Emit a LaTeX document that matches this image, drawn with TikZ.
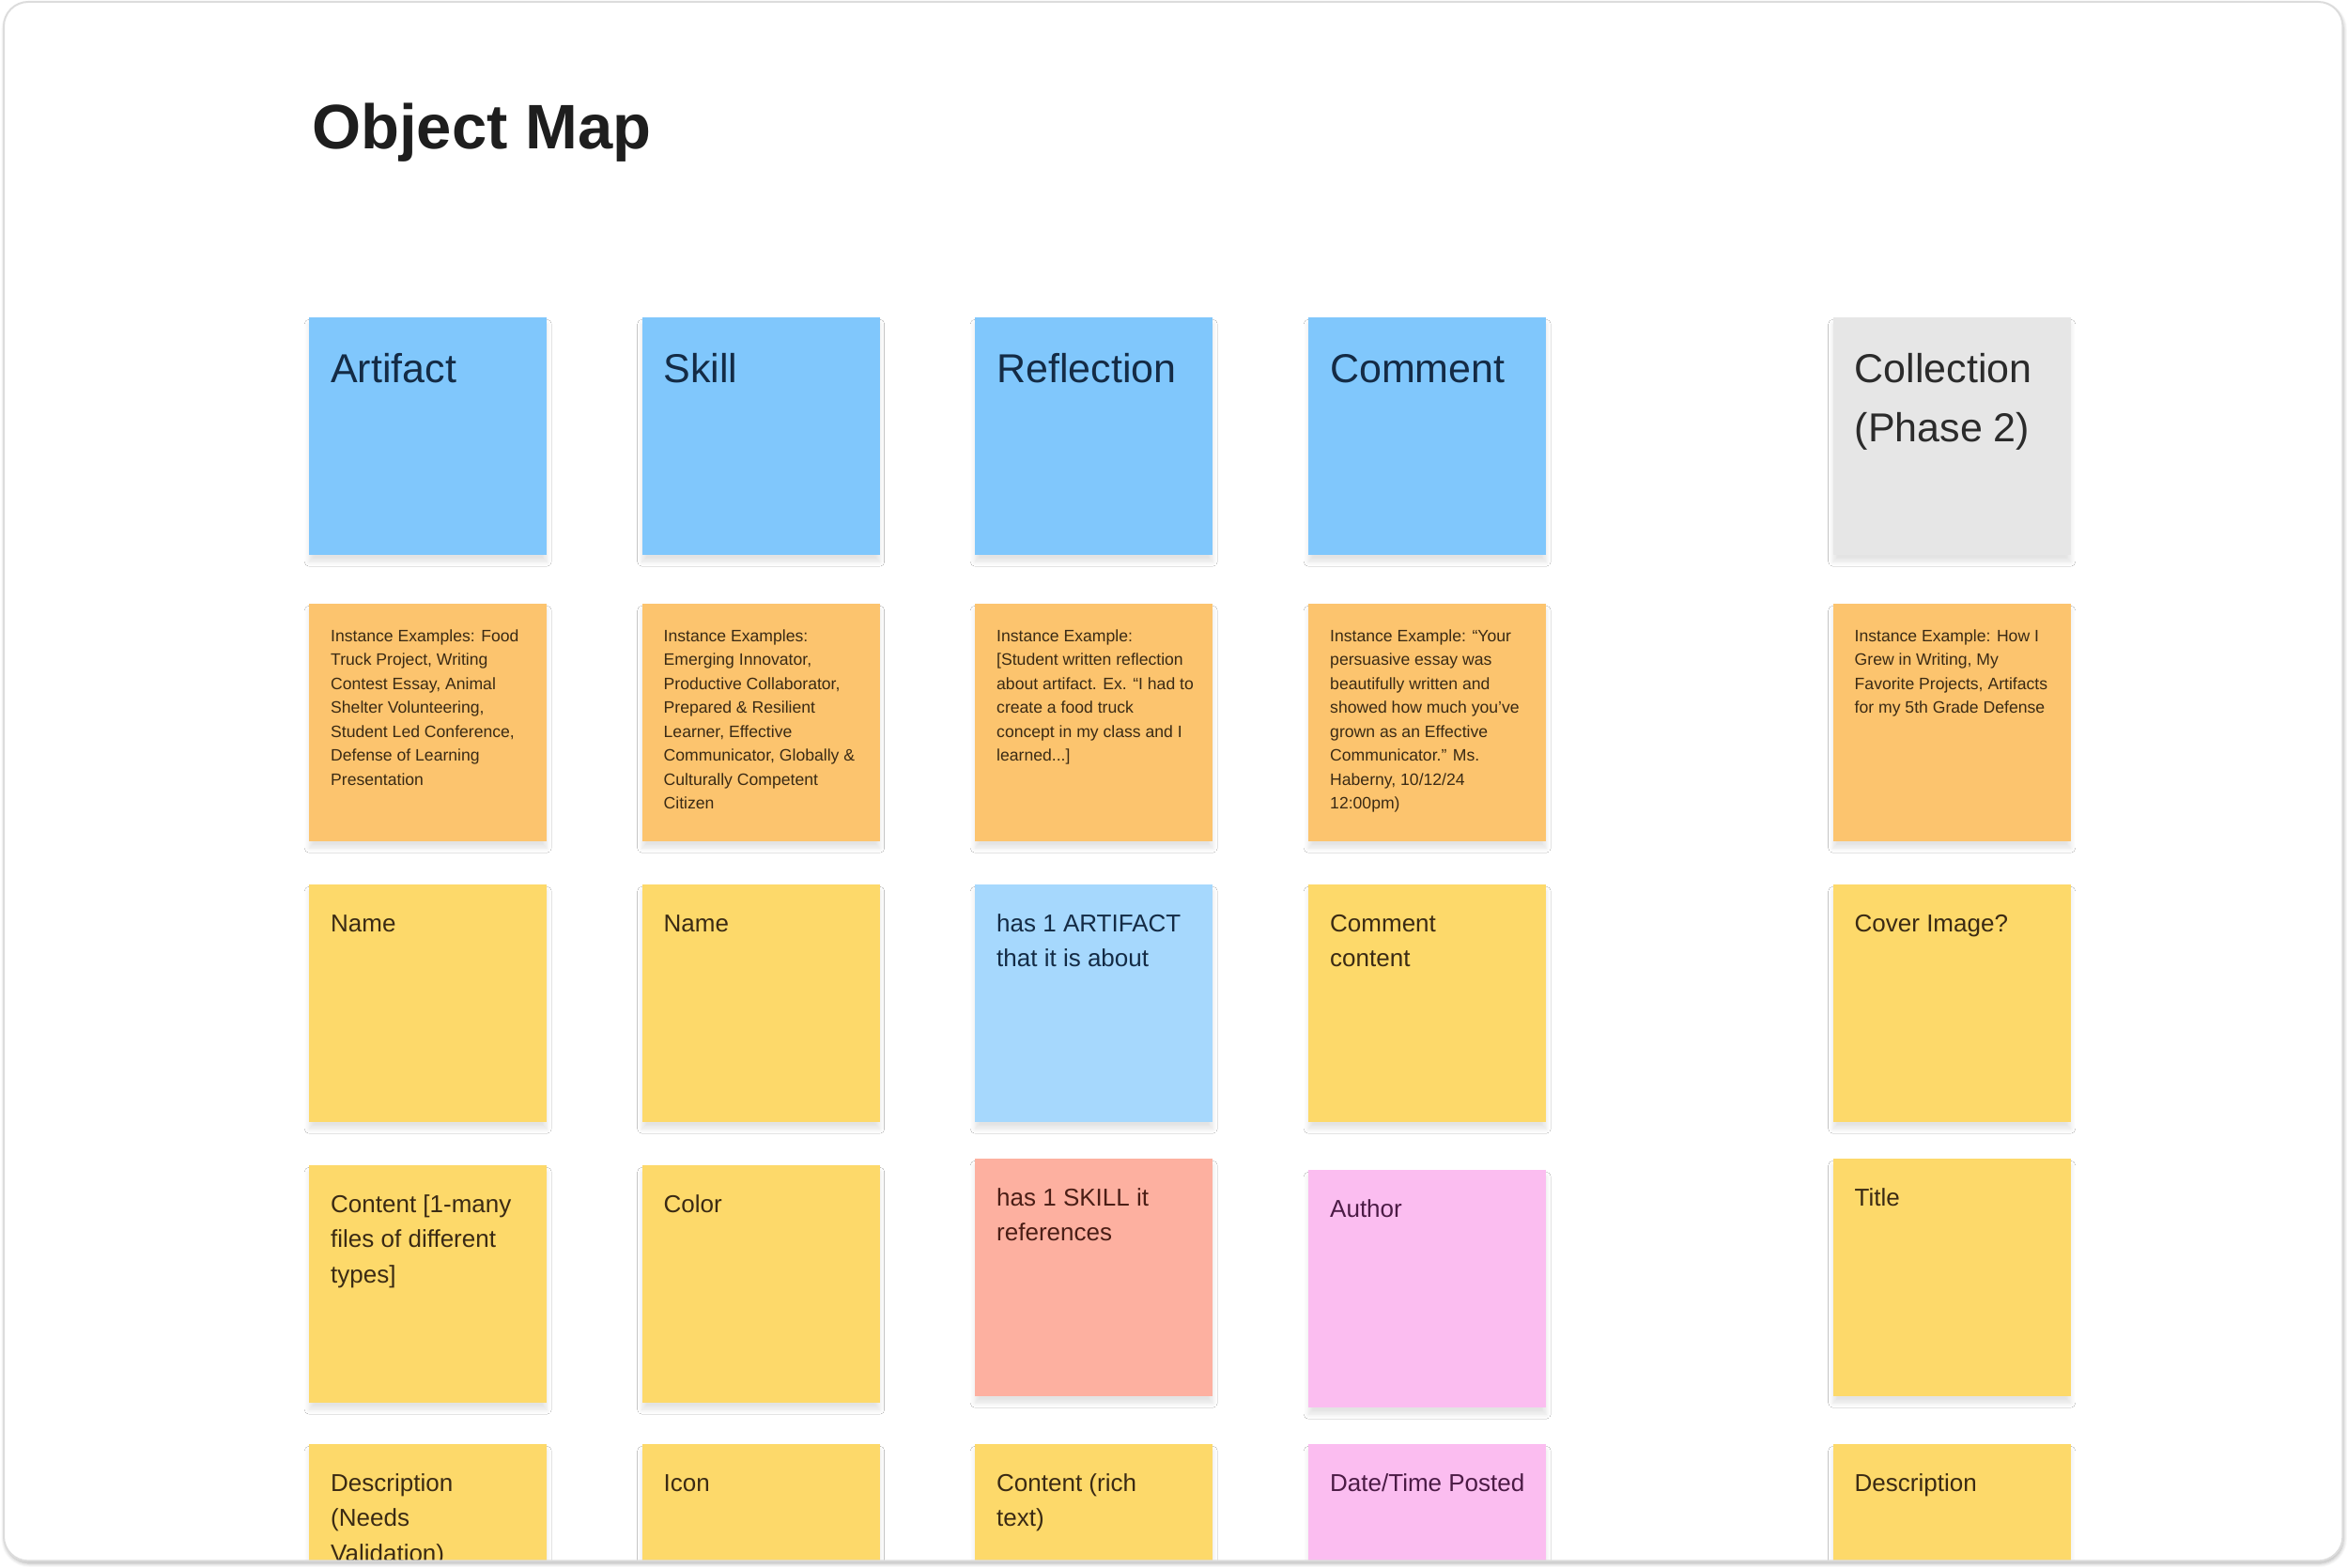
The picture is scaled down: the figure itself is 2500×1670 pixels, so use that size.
\documentclass[tikz,border=0pt]{standalone}
\usepackage{fontspec}
\setmainfont{Liberation Sans}
\usetikzlibrary{shadows.blur}
\definecolor{titlecol}{HTML}{1E1E1E}
\definecolor{bluefill}{HTML}{80C7FC}
\definecolor{orangefill}{HTML}{FCC46E}
\definecolor{yellowfill}{HTML}{FDD96A}
\definecolor{lightbluefill}{HTML}{A6D8FD}
\definecolor{salmonfill}{HTML}{FDB0A0}
\definecolor{pinkfill}{HTML}{FBBDF0}
\definecolor{grayfill}{HTML}{E6E6E6}
\definecolor{navytext}{HTML}{142B45}
\definecolor{browntext}{HTML}{3A2A14}
\definecolor{salmontext}{HTML}{4A1E16}
\definecolor{pinktext}{HTML}{4B1B45}
\definecolor{graytext}{HTML}{2B2B2B}
\definecolor{framecol}{HTML}{DCDCDC}

\newcommand\stickynote[5]{%
  % #1 name, #2 position, #3 fill style, #4 text style, #5 text
  \node[notebox,#3] (#1) at (#2) {};
  \node[#4] (#1-t) at (#1.north west) {\rule{0pt}{50pt}#5};
}

\begin{document}
\begin{tikzpicture}[x=1pt,y=-1pt,
  framebox/.style={rectangle, rounded corners=26pt, fill=white, draw=none,
    anchor=north west, inner sep=0pt,
    blur shadow={shadow xshift=1pt, shadow yshift=-3pt, shadow blur radius=4pt,
      shadow opacity=30, shadow blur steps=6}},
  frameline/.style={draw=framecol, line width=2pt, rounded corners=26pt},
  notebox/.style={rectangle, anchor=north west, inner sep=0pt,
    minimum width=253pt, minimum height=253pt, draw=none,
    blur shadow={shadow xshift=0pt, shadow yshift=-7pt, shadow blur radius=5pt,
      shadow opacity=11, shadow blur steps=6}},
  bluenote/.style={fill=bluefill},
  orangenote/.style={fill=orangefill},
  yellownote/.style={fill=yellowfill},
  lightbluenote/.style={fill=lightbluefill},
  salmonnote/.style={fill=salmonfill},
  pinknote/.style={fill=pinkfill},
  graynote/.style={fill=grayfill},
  notetext/.style={anchor=north west, inner sep=0pt, align=left, xshift=23pt},
  headtext/.style={notetext, yshift=-19pt, font=\fontsize{43}{63}\selectfont},
  smalltext/.style={notetext, yshift=10pt, font=\fontsize{17.6}{25.5}\selectfont},
  bodytext/.style={notetext, yshift=0pt, font=\fontsize{26}{37.5}\selectfont},
  titletext/.style={anchor=base west, inner sep=0pt, text=titlecol,
    font=\fontsize{67}{80}\selectfont\bfseries}
]
\useasboundingbox (0,0) rectangle (2500,1670);

\node[framebox, minimum width=2490pt, minimum height=1660pt] (frame) at (4,2) {};

\node[titletext] (title) at (332,158) {Object Map};

\begin{scope}
\clip[rounded corners=26pt] (frame.north west) rectangle (frame.south east);

% Column 1: Artifact
\stickynote{a1}{329,338}{bluenote}{headtext, text=navytext}{Artifact}
\stickynote{a2}{329,643}{orangenote}{smalltext, text=browntext}{Instance Examples: Food\\Truck Project, Writing\\Contest Essay, Animal\\Shelter Volunteering,\\Student Led Conference,\\Defense of Learning\\Presentation}
\stickynote{a3}{329,942}{yellownote}{bodytext, text=browntext}{Name}
\stickynote{a4}{329,1241}{yellownote}{bodytext, text=browntext}{Content [1-many\\files of different\\types]}
\stickynote{a5}{329,1538}{yellownote}{bodytext, text=browntext}{Description\\(Needs\\Validation)}

% Column 2: Skill
\stickynote{b1}{683.5,338}{bluenote}{headtext, text=navytext}{Skill}
\stickynote{b2}{683.5,643}{orangenote}{smalltext, text=browntext}{Instance Examples:\\Emerging Innovator,\\Productive Collaborator,\\Prepared \& Resilient\\Learner, Effective\\Communicator, Globally \&\\Culturally Competent\\Citizen}
\stickynote{b3}{683.5,942}{yellownote}{bodytext, text=browntext}{Name}
\stickynote{b4}{683.5,1241}{yellownote}{bodytext, text=browntext}{Color}
\stickynote{b5}{683.5,1538}{yellownote}{bodytext, text=browntext}{Icon}

% Column 3: Reflection
\stickynote{c1}{1038,338}{bluenote}{headtext, text=navytext}{Reflection}
\stickynote{c2}{1038,643}{orangenote}{smalltext, text=browntext}{Instance Example:\\{[}Student written reflection\\about artifact. Ex. “I had to\\create a food truck\\concept in my class and I\\learned...]}
\stickynote{c3}{1038,942}{lightbluenote}{bodytext, text=navytext}{has 1 ARTIFACT\\that it is about}
\stickynote{c4}{1038,1234}{salmonnote}{bodytext, text=salmontext}{has 1 SKILL it\\references}
\stickynote{c5}{1038,1538}{yellownote}{bodytext, text=browntext}{Content (rich\\text)}

% Column 4: Comment
\stickynote{d1}{1393,338}{bluenote}{headtext, text=navytext}{Comment}
\stickynote{d2}{1393,643}{orangenote}{smalltext, text=browntext}{Instance Example: “Your\\persuasive essay was\\beautifully written and\\showed how much you’ve\\grown as an Effective\\Communicator.” Ms.\\Haberny, 10/12/24\\12:00pm)}
\stickynote{d3}{1393,942}{yellownote}{bodytext, text=browntext}{Comment\\content}
\stickynote{d4}{1393,1246}{pinknote}{bodytext, text=pinktext}{Author}
\stickynote{d5}{1393,1538}{pinknote}{bodytext, text=pinktext}{Date/Time Posted}

% Column 5: Collection
\stickynote{e1}{1951.5,338}{graynote}{headtext, text=graytext}{Collection\\(Phase 2)}
\stickynote{e2}{1951.5,643}{orangenote}{smalltext, text=browntext}{Instance Example: How I\\Grew in Writing, My\\Favorite Projects, Artifacts\\for my 5th Grade Defense}
\stickynote{e3}{1951.5,942}{yellownote}{bodytext, text=browntext}{Cover Image?}
\stickynote{e4}{1951.5,1234}{yellownote}{bodytext, text=browntext}{Title}
\stickynote{e5}{1951.5,1538}{yellownote}{bodytext, text=browntext}{Description}
\end{scope}

\draw[frameline] (frame.north west) rectangle (frame.south east);
\end{tikzpicture}
\end{document}
